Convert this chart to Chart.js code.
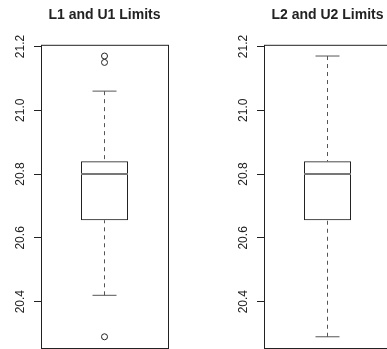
<!DOCTYPE html>
<html>
<head>
<meta charset="utf-8">
<script src="https://cdn.jsdelivr.net/npm/chart.js@4.4.1/dist/chart.umd.min.js"></script>
<style>
  html, body { margin: 0; padding: 0; background: #fff; }
  #wrap { position: relative; width: 387px; height: 349px; overflow: hidden; background: #fff; }
  .panel { position: absolute; top: 0; width: 194px; height: 349px; }
  .panel canvas { display: block; }
</style>
</head>
<body>
<div id="wrap">
  <div class="panel" style="left:0px"><canvas id="c0" width="194" height="349"></canvas></div>
  <div class="panel" style="left:223px"><canvas id="c1" width="194" height="349"></canvas></div>
</div>
<script>
// Five-number summaries of the two limit pairs, plus points beyond the whiskers
const panelTitles  = ['L1 and U1 Limits', 'L2 and U2 Limits'];
const lowerWhisker = [20.42, 20.29];
const lowerHinge   = [20.655, 20.655];
const medians      = [20.80, 20.80];
const upperHinge   = [20.84, 20.84];
const upperWhisker = [21.06, 21.17];
const outliers     = [[21.17, 21.15, 20.29], []];
const yTicks       = [20.4, 20.6, 20.8, 21.0, 21.2];

const INK = '#222';
const DASH_INK = '#555';

// Box frame drawn around the plotting region
const framePlugin = {
  id: 'frame',
  afterDraw(chart) {
    const { ctx, chartArea: a } = chart;
    ctx.save();
    ctx.strokeStyle = INK;
    ctx.lineWidth = 1;
    ctx.strokeRect(a.left + 0.5, a.top + 0.5, a.right - a.left, a.bottom - a.top);
    ctx.restore();
  }
};

function makePanel(i) {
  const label = panelTitles[i];
  const all = [lowerWhisker[i], upperWhisker[i], ...outliers[i]];
  const lo = Math.min(...all), hi = Math.max(...all);
  const pad = (hi - lo) * 0.04;
  const at = v => ({ x: label, y: v });

  new Chart(document.getElementById('c' + i), {
    type: 'bar',
    data: {
      labels: [label],
      datasets: [
        {
          // median bar
          type: 'line',
          data: [at(medians[i])],
          showLine: false,
          pointStyle: 'line',
          pointRadius: 23.5,
          pointHoverRadius: 23.5,
          pointBorderWidth: 2,
          pointBorderColor: '#777'
        },
        {
          // hinge box
          type: 'bar',
          data: [[lowerHinge[i], upperHinge[i]]],
          backgroundColor: 'rgba(0,0,0,0)',
          borderColor: INK,
          borderWidth: 1,
          borderSkipped: false,
          barPercentage: 0.37,
          categoryPercentage: 1
        },
        {
          // upper whisker
          type: 'line',
          data: [at(upperWhisker[i]), at(upperHinge[i])],
          borderColor: DASH_INK,
          borderWidth: 1,
          borderDash: [4, 4],
          pointRadius: 0
        },
        {
          // lower whisker
          type: 'line',
          data: [at(lowerWhisker[i]), at(lowerHinge[i])],
          borderColor: DASH_INK,
          borderWidth: 1,
          borderDash: [4, 4],
          pointRadius: 0
        },
        {
          // whisker caps
          type: 'line',
          data: [at(upperWhisker[i]), at(lowerWhisker[i])],
          showLine: false,
          pointStyle: 'line',
          pointRadius: 12,
          pointHoverRadius: 12,
          pointBorderWidth: 1,
          pointBorderColor: DASH_INK
        },
        {
          // outlying points
          type: 'line',
          data: outliers[i].map(at),
          showLine: false,
          pointStyle: 'circle',
          pointRadius: 3,
          pointHoverRadius: 3,
          pointBorderWidth: 1,
          pointBorderColor: INK,
          pointBackgroundColor: 'rgba(0,0,0,0)'
        }
      ]
    },
    options: {
      responsive: false,
      animation: false,
      events: [],
      layout: { autoPadding: false, padding: { left: 0, right: 26, top: 0, bottom: 1 } },
      plugins: {
        legend: { display: false },
        tooltip: { enabled: false },
        title: {
          display: true,
          text: label,
          fullSize: false,
          color: INK,
          font: { family: '"Liberation Sans", Arial, sans-serif', size: 14, weight: 'bold', lineHeight: 1.2 },
          padding: { top: 7, bottom: 21 }
        }
      },
      scales: {
        x: { display: false },
        y: {
          type: 'linear',
          min: lo - pad,
          max: hi + pad,
          afterBuildTicks: s => { s.ticks = yTicks.map(v => ({ value: v })); },
          afterFit: s => { s.width = 41; s.paddingTop = 0; s.paddingBottom = 0; },
          border: { display: false },
          grid: { display: true, drawOnChartArea: false, drawTicks: true, tickLength: 7, color: INK },
          ticks: {
            autoSkip: false,
            minRotation: 90,
            maxRotation: 90,
            crossAlign: 'center',
            padding: 2,
            color: INK,
            font: { family: '"Liberation Sans", Arial, sans-serif', size: 12 },
            callback: v => Number(v).toFixed(1)
          }
        }
      }
    },
    plugins: [framePlugin]
  });
}

panelTitles.forEach((_, i) => makePanel(i));
</script>
</body>
</html>
